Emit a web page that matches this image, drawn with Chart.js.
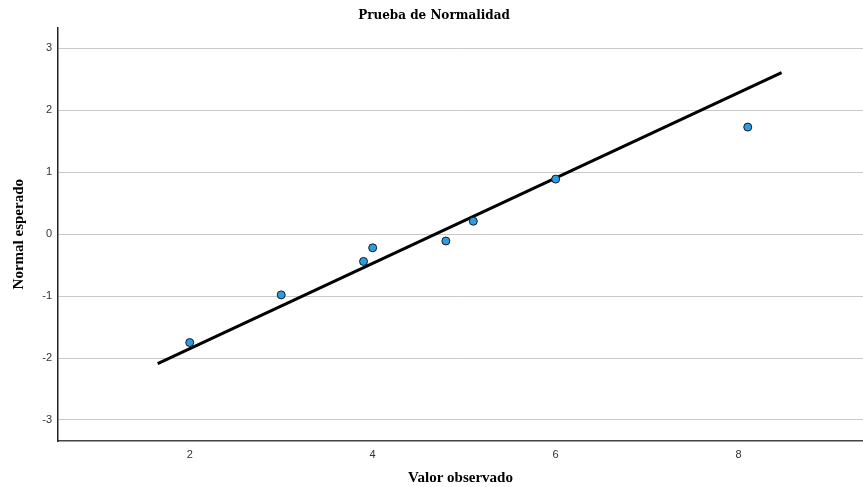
<!DOCTYPE html>
<html>
<head>
<meta charset="utf-8">
<script src="https://cdn.jsdelivr.net/npm/chart.js@4"></script>
<style>
  body { margin: 0; background: #fff; overflow: hidden; }
  #wrap { width: 868px; height: 487px; }
</style>
</head>
<body>
<div id="wrap"><canvas id="qqChart"></canvas></div>
<script>
// observed values and expected normal scores
const observed = [2.0, 3.0, 3.9, 4.0, 4.8, 5.1, 6.0, 8.1];
const expectedNormal = [-1.75, -0.98, -0.44, -0.22, -0.11, 0.21, 0.89, 1.73];

// reference line endpoints
const lineX = [1.65, 8.47];
const lineY = [-2.09, 2.61];

const xTicks = [2, 4, 6, 8];
const yTicks = [-3, -2, -1, 0, 1, 2, 3];

const serifBold = { family: "'Liberation Serif', 'DejaVu Serif', serif", weight: "bold" };
const tickFont = { family: "'Liberation Sans', Arial, sans-serif", size: 11 };

const qqChart = new Chart(document.getElementById("qqChart"), {
  type: "scatter",
  data: {
    datasets: [
      {
        label: "Línea",
        type: "line",
        data: lineX.map((x, i) => ({ x: x, y: lineY[i] })),
        borderColor: "#000000",
        borderWidth: 3,
        pointRadius: 0,
        fill: false,
        order: 2,
      },
      {
        label: "Observado",
        data: observed.map((x, i) => ({ x: x, y: expectedNormal[i] })),
        backgroundColor: "#2b9de6",
        borderColor: "#1a1a1a",
        borderWidth: 1,
        pointRadius: 4,
        order: 1,
      },
    ],
  },
  options: {
    responsive: true,
    maintainAspectRatio: false,
    animation: false,
    layout: { padding: 0 },
    plugins: {
      legend: { display: false },
      tooltip: { enabled: false },
      title: {
        display: true,
        text: "Prueba de Normalidad",
        color: "#000",
        font: { family: "'DejaVu Serif', serif", weight: "bold", size: 12 },
        padding: { top: 9, bottom: 4 },
      },
    },
    scales: {
      x: {
        type: "linear",
        min: 0.56,
        max: 9.36,
        afterBuildTicks: (scale) => {
          scale.ticks = xTicks.map((v) => ({ value: v }));
        },
        afterFit: (scale) => {
          scale.height = 46;
        },
        grid: { display: false, drawTicks: false },
        border: { display: true, color: "#444", width: 1.5 },
        ticks: { color: "#333", padding: 7, font: tickFont },
        title: {
          display: true,
          text: "Valor observado",
          color: "#000",
          font: { ...serifBold, size: 15 },
          padding: { top: 7, bottom: 0 },
        },
      },
      y: {
        type: "linear",
        min: -3.34,
        max: 3.34,
        afterBuildTicks: (scale) => {
          scale.ticks = yTicks.map((v) => ({ value: v }));
        },
        afterFit: (scale) => {
          scale.width = 58;
        },
        grid: { color: "#c8c8c8", drawTicks: false, lineWidth: 1 },
        border: { display: true, color: "#222", width: 1.5 },
        ticks: { color: "#333", padding: 6, font: tickFont },
        title: {
          display: true,
          text: "Normal esperado",
          color: "#000",
          font: { ...serifBold, size: 15 },
          padding: { top: 10, bottom: 0 },
        },
      },
    },
  },
});
</script>
</body>
</html>
